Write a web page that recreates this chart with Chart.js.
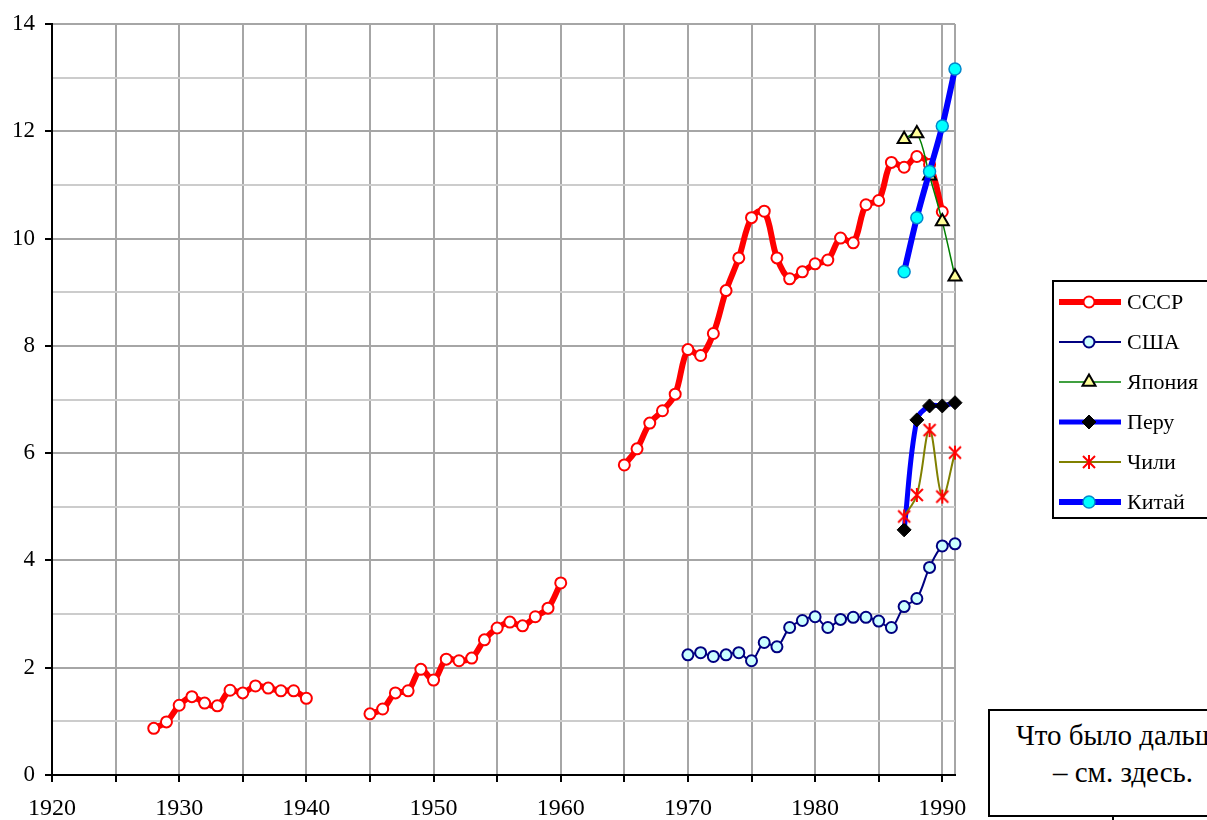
<!DOCTYPE html>
<html>
<head>
<meta charset="utf-8">
<script src="https://cdn.jsdelivr.net/npm/chart.js@4/dist/chart.umd.min.js"></script>
<style>
  html, body { margin: 0; padding: 0; background: #fff; overflow: hidden; }
  #wrap { position: relative; width: 1207px; height: 820px; overflow: hidden; }
  #note {
    position: absolute; left: 988px; top: 709px; width: 270px; height: 108px;
    border: 2px solid #000; background: #fff;
    font-family: 'Liberation Serif', serif; font-size: 29px; line-height: 37px;
    text-align: center; padding-top: 6px; box-sizing: border-box; white-space: nowrap;
  }
  #notetick { position: absolute; left: 1112px; top: 815px; width: 2px; height: 6px; background: #000; }
</style>
</head>
<body>
<div id="wrap">
  <canvas id="mychart" width="1207" height="820"></canvas>
  <div id="note">Что было дальше<br>– см. здесь.</div>
  <div id="notetick"></div>
</div>
<script>
//. данные
var ussrYears = [];
for( var y = 1928; y <= 1990; y ++ ){ ussrYears.push( y ); }
var ussrValues = [
  0.87, 0.99, 1.30, 1.46, 1.34, 1.29, 1.58, 1.53, 1.66, 1.62, 1.57, 1.57, 1.43,   // 1928-1940
  null, null, null, null,                                                        // 1941-1944
  1.14, 1.23, 1.53, 1.57, 1.97, 1.77, 2.16, 2.13, 2.18, 2.52, 2.74, 2.85, 2.78, 2.95, 3.11, 3.58, // 1945-1960
  null, null, null, null,                                                        // 1961-1964
  5.78, 6.08, 6.56, 6.79, 7.10, 7.93, 7.82, 8.23, 9.03, 9.64, 10.39, 10.51, 9.64, 9.25, 9.38,      // 1965-1979
  9.53, 9.60, 10.01, 9.92, 10.63, 10.71, 11.42, 11.33, 11.53, 11.38, 10.50        // 1980-1990
];

var usaYears = [];
for( var y = 1970; y <= 1991; y ++ ){ usaYears.push( y ); }
var usaValues = [
  2.24, 2.28, 2.21, 2.24, 2.28, 2.13, 2.47, 2.39, 2.75, 2.88, 2.95,
  2.75, 2.90, 2.94, 2.94, 2.87, 2.75, 3.14, 3.29, 3.87, 4.27, 4.31
];

var lateYears = [ 1987, 1988, 1989, 1990, 1991 ];
var japanValues = [ 11.85, 11.96, 11.17, 10.32, 9.29 ];
var peruValues  = [ 4.57, 6.62, 6.88, 6.88, 6.94 ];
var chileValues = [ 4.82, 5.22, 6.43, 5.19, 6.01 ];
var chinaValues = [ 9.38, 10.39, 11.25, 12.10, 13.16 ];

var seriesNames = [ 'СССР', 'США', 'Япония', 'Перу', 'Чили', 'Китай' ];

var xTickYears = [];
for( var y = 1920; y <= 1990; y += 5 ){ xTickYears.push( y ); }
xTickYears.push( 1991 );

function toPoints( years, values ){
  var pts = [];
  for( var i = 0; i < years.length; i ++ ){
    pts.push( { x: years[i], y: values[i] } );
  }
  return pts;
}

//. маркер-звёздочка (как в Excel)
function makeAsterisk(){
  var c = document.createElement( 'canvas' );
  c.width = 18; c.height = 18;
  var g = c.getContext( '2d' );
  g.strokeStyle = '#ff0000';
  g.lineWidth = 2;
  g.beginPath();
  g.moveTo( 9, 2 ); g.lineTo( 9, 16 );
  g.moveTo( 3, 3 ); g.lineTo( 15, 15 );
  g.moveTo( 15, 3 ); g.lineTo( 3, 15 );
  g.stroke();
  return c;
}
var asterisk = makeAsterisk();

Chart.defaults.font.family = "'Liberation Serif', 'Times New Roman', serif";
Chart.defaults.font.size = 22;
Chart.defaults.color = '#000';

var datasets = [
  {
    label: seriesNames[0], data: toPoints( ussrYears, ussrValues ),
    borderColor: '#ff0000', borderWidth: 6, tension: 0.35,
    pointStyle: 'circle', pointRadius: 5.5, pointBorderWidth: 2,
    pointBackgroundColor: '#ffffff', pointBorderColor: '#ff0000', order: 6
  },
  {
    label: seriesNames[1], data: toPoints( usaYears, usaValues ),
    borderColor: '#000080', borderWidth: 2, tension: 0.35,
    pointStyle: 'circle', pointRadius: 5.5, pointBorderWidth: 2,
    pointBackgroundColor: '#ccffff', pointBorderColor: '#000080', order: 5
  },
  {
    label: seriesNames[2], data: toPoints( lateYears, japanValues ),
    borderColor: '#008000', borderWidth: 1.5, tension: 0.35,
    pointStyle: 'triangle', pointRadius: 7.5, pointBorderWidth: 2,
    pointBackgroundColor: '#ffff99', pointBorderColor: '#000000', order: 4
  },
  {
    label: seriesNames[3], data: toPoints( lateYears, peruValues ),
    borderColor: '#0000ff', borderWidth: 5, tension: 0.35,
    pointStyle: 'rectRot', pointRadius: 7, pointBorderWidth: 1,
    pointBackgroundColor: '#000000', pointBorderColor: '#000000', order: 3
  },
  {
    label: seriesNames[4], data: toPoints( lateYears, chileValues ),
    borderColor: '#808000', borderWidth: 2, tension: 0.35,
    pointStyle: asterisk, pointRadius: 7,
    pointBackgroundColor: '#ff0000', pointBorderColor: '#ff0000', order: 2
  },
  {
    label: seriesNames[5], data: toPoints( lateYears, chinaValues ),
    borderColor: '#0000ff', borderWidth: 6, tension: 0.35,
    pointStyle: 'circle', pointRadius: 6, pointBorderWidth: 1.5,
    pointBackgroundColor: '#00ffff', pointBorderColor: '#0088cc', order: 1
  }
];
datasets.forEach( function( ds ){ ds.clip = false; ds.spanGaps = false; ds.fill = false; } );

//. легенда в рамке справа
var boxLegend = {
  id: 'boxLegend',
  afterDraw: function( chart ){
    var ctx = chart.ctx;
    ctx.save();
    ctx.fillStyle = '#fff';
    ctx.fillRect( 1053, 281, 160, 237 );
    ctx.strokeStyle = '#000';
    ctx.lineWidth = 2;
    ctx.strokeRect( 1053, 281, 160, 237 );
    var ds = chart.data.datasets;
    for( var i = 0; i < ds.length; i ++ ){
      var y = 302 + i * 40;
      ctx.strokeStyle = ds[i].borderColor;
      ctx.lineWidth = ds[i].borderWidth;
      ctx.beginPath();
      ctx.moveTo( 1059, y );
      ctx.lineTo( 1121, y );
      ctx.stroke();
      ctx.fillStyle = ds[i].pointBackgroundColor;
      ctx.strokeStyle = ds[i].pointBorderColor;
      ctx.lineWidth = ds[i].pointBorderWidth || 1;
      Chart.helpers.drawPoint( ctx, {
        pointStyle: ds[i].pointStyle, radius: ds[i].pointRadius,
        rotation: 0, borderWidth: ds[i].pointBorderWidth || 1
      }, 1089, y );
      ctx.fillStyle = '#000';
      ctx.font = "22px 'Liberation Serif', serif";
      ctx.textBaseline = 'middle';
      ctx.fillText( ds[i].label, 1127, y + 1 );
    }
    ctx.restore();
  }
};

var chart = new Chart( document.getElementById( 'mychart' ), {
  type: 'line',
  data: { datasets: datasets },
  options: {
    responsive: false,
    animation: false,
    devicePixelRatio: 1,
    layout: { padding: { top: 24, right: 252, left: 0, bottom: 0 } },
    plugins: { legend: { display: false }, tooltip: { enabled: false } },
    scales: {
      x: {
        type: 'linear', min: 1920, max: 1991,
        afterBuildTicks: function( scale ){
          scale.ticks = xTickYears.map( function( v ){ return { value: v }; } );
        },
        afterFit: function( scale ){ scale.height = 45; },
        ticks: {
          autoSkip: false, maxRotation: 0, padding: 12,
          font: { size: 24 },
          callback: function( v ){ return ( v % 10 === 0 ) ? String( v ) : ''; }
        },
        grid: {
          color: '#a6a6a6', lineWidth: 2, tickLength: 7, tickWidth: 2,
          tickColor: function( c ){ return ( c.tick && c.tick.value === 1991 ) ? 'rgba(0,0,0,0)' : '#000'; }
        },
        border: { color: '#000', width: 2 }
      },
      y: {
        min: 0, max: 14,
        afterFit: function( scale ){ scale.width = 52; },
        ticks: {
          stepSize: 1, padding: 10,
          font: { size: 23 },
          callback: function( v ){ return ( v % 2 === 0 ) ? String( v ) : ''; }
        },
        grid: {
          lineWidth: 2, tickLength: 7, tickWidth: 2,
          color: function( c ){ return ( c.tick && c.tick.value % 2 === 0 ) ? '#a6a6a6' : '#cccccc'; },
          tickColor: function( c ){ return ( c.tick && c.tick.value % 2 === 0 ) ? '#000' : 'rgba(0,0,0,0)'; }
        },
        border: { color: '#000', width: 2 }
      }
    }
  },
  plugins: [ boxLegend ]
});
</script>
</body>
</html>
